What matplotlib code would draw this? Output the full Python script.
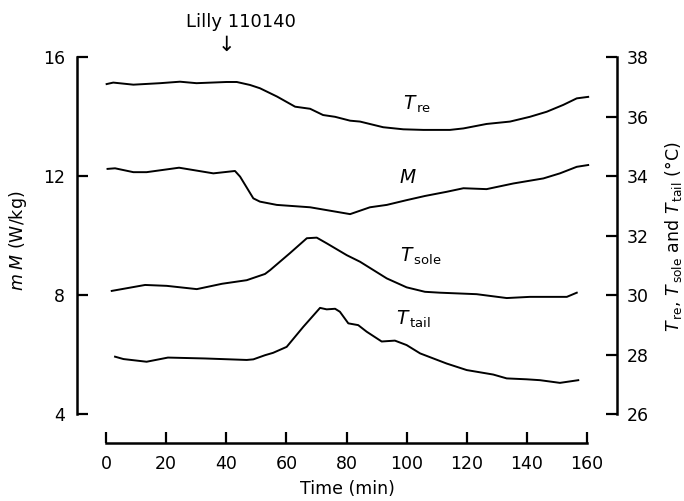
import matplotlib
matplotlib.use("Agg")
import matplotlib.pyplot as plt
from matplotlib.transforms import blended_transform_factory

plt.rcParams['font.family'] = ['DejaVu Sans']
plt.rcParams['mathtext.fontset'] = 'dejavusans'

# metabolic rate M (W/kg), left axis
t_M = [0.5, 3.0, 9.1, 13.5, 24.3, 35.7, 42.9, 44.6, 49.0, 51.2, 56.8, 67.9, 81.2,
       87.8, 93.4, 100.0, 106.1, 113.3, 118.9, 126.6, 135.5, 145.5, 151.0, 156.6, 160.4]
v_M = [12.24, 12.26, 12.13, 12.13, 12.28, 12.09, 12.17, 11.98, 11.25, 11.14, 11.03,
       10.95, 10.72, 10.95, 11.03, 11.19, 11.33, 11.47, 11.59, 11.56, 11.75, 11.92,
       12.09, 12.31, 12.37]

# rectal temperature (°C), right axis
t_re = [0.2, 2.4, 9.1, 18.0, 24.6, 30.1, 40.1, 43.5, 47.9, 51.2, 56.9, 62.9, 67.9,
        72.2, 76.2, 81.2, 84.5, 92.2, 98.9, 105.6, 114.4, 118.9, 126.6, 134.4, 141.0,
        146.6, 152.1, 156.6, 160.4]
v_re = [37.09, 37.14, 37.07, 37.12, 37.17, 37.12, 37.16, 37.16, 37.06, 36.95, 36.67,
        36.33, 36.26, 36.05, 35.99, 35.86, 35.83, 35.64, 35.57, 35.55, 35.55, 35.60,
        35.75, 35.83, 35.99, 36.16, 36.39, 36.61, 36.66]

# sole temperature (°C)
t_sole = [1.9, 6.9, 13.0, 20.2, 30.2, 38.6, 46.8, 52.9, 54.6, 61.2, 66.8, 70.1, 73.4,
          80.1, 84.5, 93.4, 100.0, 106.1, 111.1, 123.3, 133.3, 141.0, 153.3, 156.6]
v_sole = [30.14, 30.23, 30.34, 30.31, 30.20, 30.38, 30.50, 30.71, 30.84, 31.41, 31.91,
          31.93, 31.74, 31.34, 31.12, 30.56, 30.26, 30.11, 30.08, 30.03, 29.90, 29.94,
          29.94, 30.08]

# tail temperature (°C)
t_tail = [3.0, 5.8, 13.5, 20.6, 32.9, 46.8, 49.0, 52.9, 55.6, 60.1, 65.6, 71.2, 73.4,
          76.2, 77.8, 80.6, 83.9, 86.7, 91.7, 96.1, 100.0, 104.5, 113.3, 120.0, 128.8,
          133.3, 139.9, 144.4, 151.0, 157.1]
v_tail = [27.93, 27.85, 27.76, 27.90, 27.87, 27.82, 27.84, 27.98, 28.06, 28.26, 28.93,
          29.57, 29.52, 29.54, 29.44, 29.05, 28.99, 28.77, 28.44, 28.47, 28.32, 28.04,
          27.70, 27.48, 27.33, 27.20, 27.17, 27.14, 27.05, 27.14]

x_ticks = [0, 20, 40, 60, 80, 100, 120, 140, 160]
left_ticks = [4, 8, 12, 16]
right_ticks = [26, 28, 30, 32, 34, 36, 38]
drug_time = 40

fig = plt.figure(figsize=(6.84, 5.01), dpi=100)
ax = fig.add_axes([0.1126, 0.1158, 0.7895, 0.7844])
ax2 = ax.twinx()

ax.set_xlim(-9.65, 170.0)
ax.set_ylim(3.03, 16.235)
ax2.set_ylim(25.03, 38.235)

lw = 1.4
ax.plot(t_M, v_M, color='black', lw=lw)
ax2.plot(t_re, v_re, color='black', lw=lw)
ax2.plot(t_sole, v_sole, color='black', lw=lw)
ax2.plot(t_tail, v_tail, color='black', lw=lw)

for s in ['top', 'right']:
    ax.spines[s].set_visible(False)
for s in ['top', 'left', 'bottom']:
    ax2.spines[s].set_visible(False)
ax.spines['left'].set_bounds(4, 16)
ax.spines['bottom'].set_bounds(0, 160)
ax2.spines['right'].set_bounds(26, 38)
for sp in [ax.spines['left'], ax.spines['bottom'], ax2.spines['right']]:
    sp.set_linewidth(1.8)

ax.set_xticks(x_ticks)
ax.set_yticks(left_ticks)
ax2.set_yticks(right_ticks)
ax.tick_params(axis='both', direction='in', length=8, width=1.6, labelsize=12.5, pad=8.5)
ax2.tick_params(axis='y', direction='in', length=8, width=1.6, labelsize=12.5, pad=7)

ax.set_xlabel('Time (min)', fontsize=12.5, va='center')
ax.xaxis.set_label_coords(0.5, -0.117)
ax.set_ylabel(r'$m\;M$ (W/kg)', fontsize=12.5, va='center')
ax.yaxis.set_label_coords(-0.109, 0.514)
ax2.set_ylabel(r'$T_{\,\rm re}$, $T_{\,\rm sole}$ and $T_{\,\rm tail}$ (°C)',
               fontsize=12.5, va='center', rotation=90)
ax2.yaxis.set_label_coords(1.105, 0.525)

# curve labels
ax2.text(98.7, 36.22, r'$T_{\,\rm re}$', fontsize=13.5, va='baseline')
ax.text(97.3, 11.76, r'$M$', fontsize=13.5, va='baseline')
ax2.text(97.8, 31.11, r'$T_{\,\rm sole}$', fontsize=13.5, va='baseline')
ax2.text(96.5, 28.99, r'$T_{\,\rm tail}$', fontsize=13.5, va='baseline')

# drug injection marker
tr = blended_transform_factory(ax.transData, ax.transAxes)
ax.text(drug_time, 1.013, '↓', transform=tr, ha='center', va='center', fontsize=15)
ax.text(drug_time + 4.9, 1.071, 'Lilly 110140', transform=tr, ha='center',
        va='center', fontsize=13)

fig.savefig('out.png', dpi=100)
